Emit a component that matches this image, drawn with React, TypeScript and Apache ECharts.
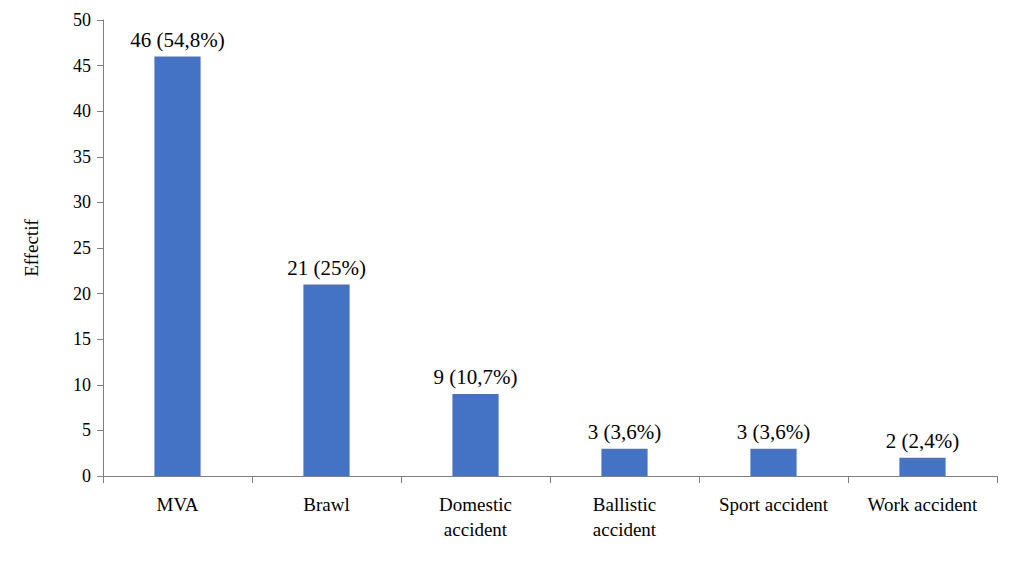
import { useEffect, useRef } from 'react';
import * as echarts from 'echarts';

const categories = ['MVA', 'Brawl', 'Domestic\naccident', 'Ballistic\naccident', 'Sport accident', 'Work accident'];
const counts = [46, 21, 9, 3, 3, 2];
const labels = ['46 (54,8%)', '21 (25%)', '9 (10,7%)', '3 (3,6%)', '3 (3,6%)', '2 (2,4%)'];

export default function App() {
  const ref = useRef<HTMLDivElement>(null);

  useEffect(() => {
    if (!ref.current) return;
    const chart = echarts.init(ref.current, null, { renderer: 'svg' });
    const font = 'Liberation Serif, Times New Roman, serif';
    chart.setOption({
      animation: false,
      textStyle: { fontFamily: font },
      grid: { left: 95, right: 11, top: 12, bottom: 85 },
      xAxis: {
        type: 'category',
        data: categories,
        axisLine: { lineStyle: { color: '#7f7f7f' } },
        axisTick: { show: true, length: 7, lineStyle: { color: '#7f7f7f' } },
        axisLabel: { color: '#000', fontSize: 19, fontFamily: font, margin: 16, lineHeight: 25, interval: 0 },
      },
      yAxis: {
        type: 'value',
        min: 0,
        max: 50,
        interval: 5,
        name: 'Effectif',
        nameLocation: 'middle',
        nameRotate: 90,
        nameGap: 62,
        nameTextStyle: { color: '#000', fontSize: 19, fontFamily: font },
        axisLine: { show: true, lineStyle: { color: '#7f7f7f' } },
        axisTick: { show: true, length: 6, lineStyle: { color: '#7f7f7f' } },
        axisLabel: { color: '#000', fontSize: 18, fontFamily: font, margin: 12 },
        splitLine: { show: false },
      },
      series: [
        {
          type: 'bar',
          data: counts,
          barWidth: '31%',
          itemStyle: { color: '#4472c4' },
          label: {
            show: true,
            position: 'top',
            distance: 6,
            color: '#000',
            fontSize: 21,
            fontFamily: font,
            formatter: (p: any) => labels[p.dataIndex],
          },
        },
      ],
    });
    return () => chart.dispose();
  }, []);

  return <div ref={ref} style={{ width: 1000, height: 553 }} />;
}
